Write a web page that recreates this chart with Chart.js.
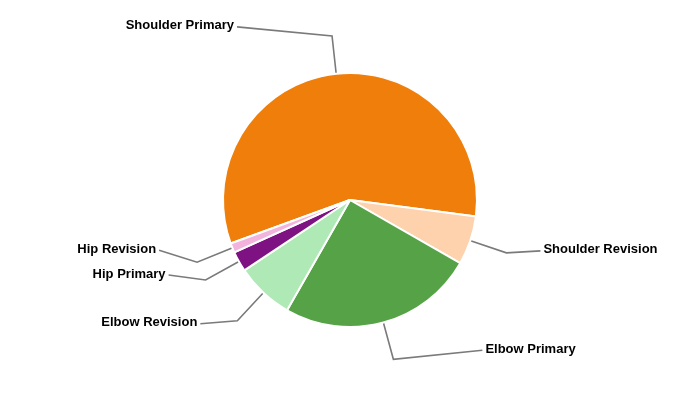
<!DOCTYPE html>
<html>
<head>
<meta charset="utf-8">
<script src="https://cdn.jsdelivr.net/npm/chart.js@4"></script>
<style>
  html, body { margin: 0; padding: 0; background: #fff; }
  #wrap { width: 700px; height: 400px; }
</style>
</head>
<body>
<div id="wrap"><canvas id="myChart" width="700" height="400"></canvas></div>
<script>
// data (percent of total)
const labels = ['Shoulder Primary', 'Shoulder Revision', 'Elbow Primary', 'Elbow Revision', 'Hip Primary', 'Hip Revision'];
const shares = [57.7, 6.2, 25.0, 7.4, 2.6, 1.2];
const colors = ['#ef7f0a', '#fdd2ac', '#55a346', '#afe9b5', '#7e1283', '#f2b4dd'];

// where each callout label sits, relative to the bend of its leader line
const labelShift = [[-95, -9], [34, -2], [89, -9], [-37, 3], [-37, -5], [-38, -12]];

// leader lines + labels
const calloutPlugin = {
  id: 'callouts',
  afterDatasetsDraw(chart) {
    const ctx = chart.ctx;
    const arcs = chart.getDatasetMeta(0).data;
    ctx.save();
    ctx.font = 'bold 13px "Liberation Sans", Arial, sans-serif';
    ctx.strokeStyle = '#7a7a7a';
    ctx.lineWidth = 1.6;
    ctx.fillStyle = '#000';
    ctx.textBaseline = 'middle';
    arcs.forEach((arc, i) => {
      const p = arc.getProps(['x', 'y', 'startAngle', 'endAngle', 'outerRadius']);
      const mid = (p.startAngle + p.endAngle) / 2;
      const cos = Math.cos(mid), sin = Math.sin(mid);
      const r0 = p.outerRadius + 1;
      const r1 = p.outerRadius * 1.3;
      const bx = p.x + cos * r1, by = p.y + sin * r1;
      const ex = bx + labelShift[i][0], ey = by + labelShift[i][1];
      ctx.beginPath();
      ctx.moveTo(p.x + cos * r0, p.y + sin * r0);
      ctx.lineTo(bx, by);
      ctx.lineTo(ex, ey);
      ctx.stroke();
      const right = labelShift[i][0] > 0;
      ctx.textAlign = right ? 'left' : 'right';
      ctx.fillText(labels[i], ex + (right ? 3 : -3), ey - 1);
    });
    ctx.restore();
  }
};

const ctx = document.getElementById('myChart').getContext('2d');
new Chart(ctx, {
  type: 'pie',
  data: {
    labels: labels,
    datasets: [{
      data: shares,
      backgroundColor: colors,
      borderColor: '#fff',
      borderWidth: 2
    }]
  },
  options: {
    responsive: false,
    animation: false,
    rotation: 250,
    layout: { padding: { top: 72, bottom: 72 } },
    plugins: {
      legend: { display: false },
      tooltip: { enabled: false }
    }
  },
  plugins: [calloutPlugin]
});
</script>
</body>
</html>
